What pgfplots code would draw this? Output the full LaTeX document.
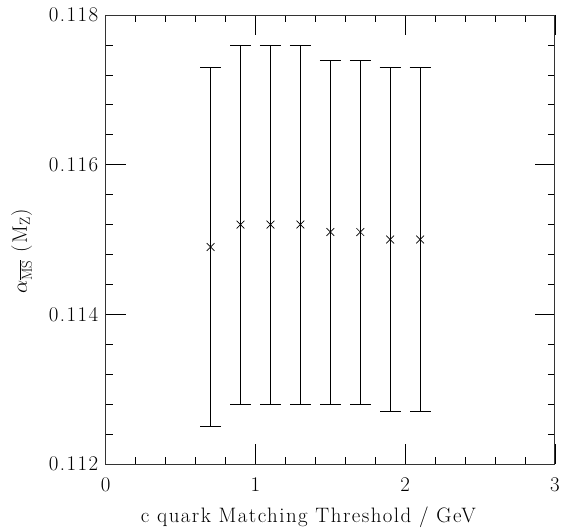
\RequirePackage{fix-cm}
\documentclass[border=0pt]{standalone}
\usepackage{fontspec}
\setmainfont{Latin Modern Roman}[LetterSpace=7]
\usepackage{pgfplots}
\pgfplotsset{compat=1.18}

\begin{document}
\begin{tikzpicture}[x=1bp,y=1bp]
\begin{axis}[
    scale only axis,
    width=450bp, height=450bp,
    xmin=0, xmax=3,
    ymin=0.112, ymax=0.118,
    xtick={0,1,2,3},
    ytick={0.112,0.114,0.116,0.118},
    minor x tick num=4,
    minor y tick num=4,
    tick align=inside,
    major tick length=20bp,
    minor tick length=7bp,
    every tick/.style={black, line width=0.6bp},
    axis line style={line width=0.8bp, black!80},
    /pgf/number format/assume math mode=true,
    yticklabel style={/pgf/number format/fixed, /pgf/number format/precision=3, /pgf/number format/fixed zerofill, xshift=-4bp},
    xticklabel style={yshift=-10bp},
    scaled y ticks=false,
    xlabel={c quark Matching Threshold / GeV},
    ylabel={$\alpha_{\overline{\mathrm{MS}}}$ (M$_\mathrm{Z}$)},
    xlabel style={yshift=-8bp, xshift=-22bp},
    ylabel style={yshift=10bp, xshift=-12bp},
    tick label style={font=\fontsize{21}{24}\selectfont},
    label style={font=\fontsize{21}{24}\selectfont},
]
\addplot[
    only marks, black,
    mark=x, mark size=5.5bp, mark options={line width=0.7bp},
    error bars/.cd,
    y dir=both, y explicit,
    error bar style={line width=0.6bp, black},
    error mark options={rotate=90, mark size=10.5bp, line width=0.6bp},
] table[x=x, y=y, y error plus=ep, y error minus=em] {
x    y       ep      em
0.7  0.1149  0.0024  0.0024
0.9  0.1152  0.0024  0.0024
1.1  0.1152  0.0024  0.0024
1.3  0.1152  0.0024  0.0024
1.5  0.1151  0.0023  0.0023
1.7  0.1151  0.0023  0.0023
1.9  0.1150  0.0023  0.0023
2.1  0.1150  0.0023  0.0023
};
\end{axis}
\path (current axis.south west) ++(-106bp,-62bp) coordinate (bbsw);
\path (current axis.north east) ++(7bp,15bp) coordinate (bbne);
\useasboundingbox (bbsw) rectangle (bbne);
\end{tikzpicture}
\end{document}
